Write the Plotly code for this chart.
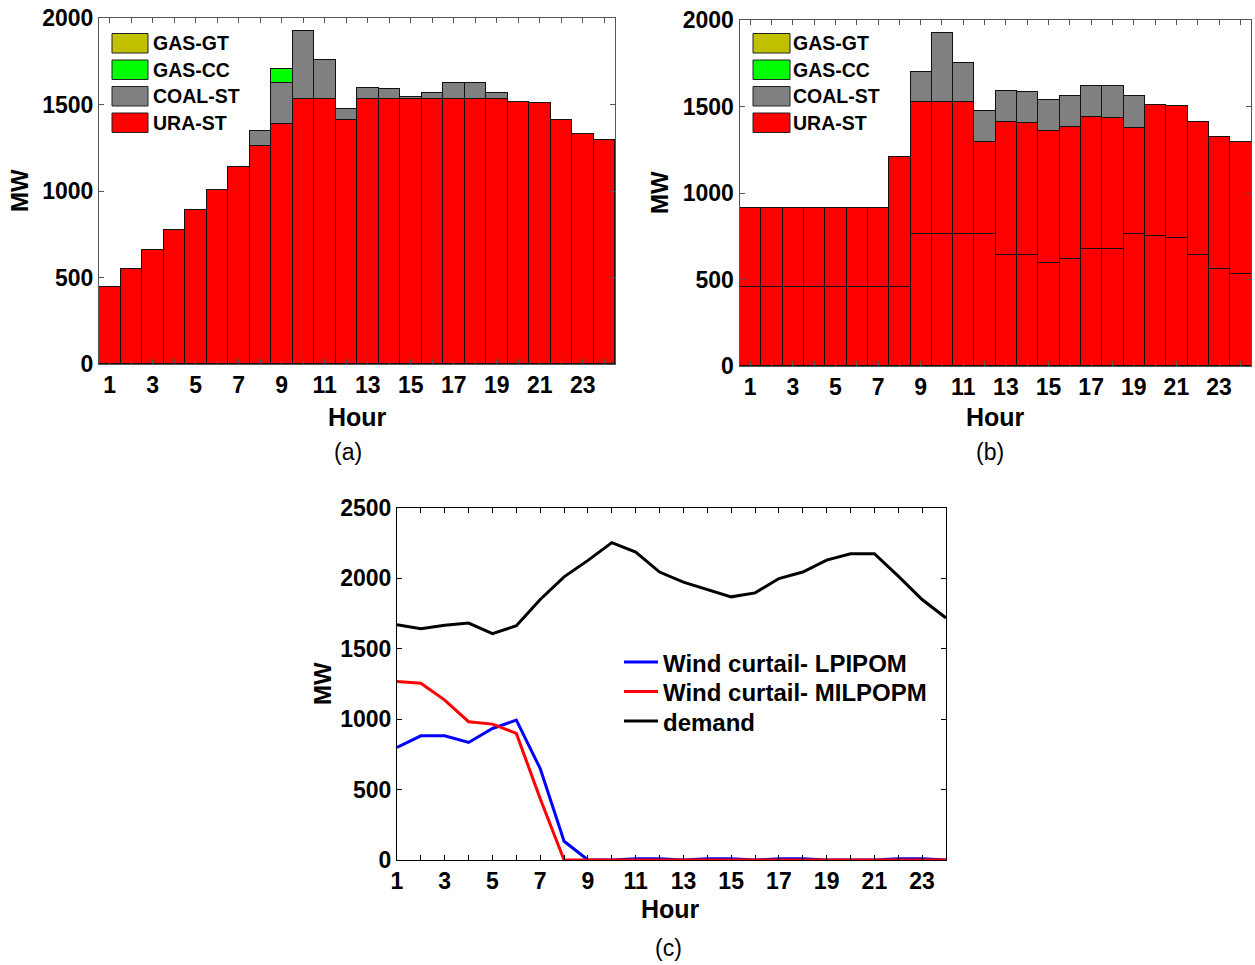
import plotly.graph_objects as go

# ---------------- data ----------------
hours = list(range(1, 25))

# (a) dispatch per technology, MW
ura_a = [444, 548, 658, 772, 888, 1008, 1137, 1261, 1390, 1529, 1529, 1413,
         1529, 1529, 1529, 1529, 1529, 1529, 1529, 1512, 1506, 1413, 1328, 1297]
coal_a = [0, 0, 0, 0, 0, 0, 0, 83, 232, 398, 230, 62,
          64, 58, 12, 35, 93, 93, 35, 0, 0, 0, 0, 0]
gascc_a = [0, 0, 0, 0, 0, 0, 0, 0, 83, 0, 0, 0,
           0, 0, 0, 0, 0, 0, 0, 0, 0, 0, 0, 0]
gasgt_a = [0] * 24

# (b) dispatch per unit / technology, MW (two uranium units)
ura1_b = [455, 455, 455, 455, 455, 455, 455, 455, 762, 762, 762, 762,
          644, 640, 594, 617, 675, 675, 762, 750, 738, 644, 559, 530]
ura2_b = [461, 461, 461, 461, 461, 461, 461, 752, 763, 763, 763, 532,
          765, 764, 763, 765, 765, 759, 616, 756, 764, 765, 765, 764]
coal_b = [0, 0, 0, 0, 0, 0, 0, 0, 177, 397, 229, 181,
          180, 181, 180, 178, 178, 184, 182, 0, 0, 0, 0, 0]
gascc_b = [0] * 24
gasgt_b = [0] * 24

# (c) demand and wind curtailment, MW
demand = [1671, 1643, 1667, 1683, 1607, 1664, 1850, 2011, 2128, 2254, 2187, 2045,
          1973, 1921, 1869, 1897, 1999, 2045, 2130, 2175, 2175, 2016, 1850, 1719]
curt_lp = [799, 882, 882, 835, 934, 994, 649, 133, 0, 0, 8, 8,
           0, 8, 8, 0, 8, 8, 0, 0, 0, 8, 8, 0]
curt_milp = [1267, 1255, 1136, 982, 965, 899, 435, 0, 0, 0, 0, 0,
             0, 0, 0, 0, 0, 0, 0, 0, 0, 0, 0, 0]

tech_names = ["GAS-GT", "GAS-CC", "COAL-ST", "URA-ST"]
tech_colors = {"GAS-GT": "#c0c000", "GAS-CC": "#00ff00",
               "COAL-ST": "#808080", "URA-ST": "#ff0000"}

line_names = ["Wind curtail- LPIPOM", "Wind curtail- MILPOPM", "demand"]
line_colors = {"Wind curtail- LPIPOM": "#0000ff",
               "Wind curtail- MILPOPM": "#ff0000",
               "demand": "#000000"}

W, H = 1255, 965
FONT = "Liberation Sans, Arial, sans-serif"


def px(x):
    return x / W


def py(y):
    return 1 - y / H


fig = go.Figure()


def add_bar(xa, ya, y, name):
    fig.add_trace(go.Bar(
        x=hours, y=y, name=name, xaxis=xa, yaxis=ya, showlegend=False,
        marker=dict(color=tech_colors[name], line=dict(color="#111", width=1)),
        width=1.0,
    ))


# (a)
add_bar("x", "y", ura_a, "URA-ST")
add_bar("x", "y", coal_a, "COAL-ST")
add_bar("x", "y", gascc_a, "GAS-CC")
add_bar("x", "y", gasgt_a, "GAS-GT")

# (b)
add_bar("x2", "y2", ura1_b, "URA-ST")
add_bar("x2", "y2", ura2_b, "URA-ST")
add_bar("x2", "y2", coal_b, "COAL-ST")
add_bar("x2", "y2", gascc_b, "GAS-CC")
add_bar("x2", "y2", gasgt_b, "GAS-GT")

# (c)
for name, y in zip(line_names, [curt_lp, curt_milp, demand]):
    fig.add_trace(go.Scatter(x=hours, y=y, mode="lines", name=name, showlegend=False,
                             line=dict(color=line_colors[name], width=3),
                             xaxis="x3", yaxis="y3"))

tickfont = dict(family=FONT, size=23, color="black", weight="bold")
odd_text = [str(h) if h % 2 == 1 else "" for h in hours]


def xaxis(domain, anchor, rng, color):
    return dict(domain=domain, anchor=anchor, range=rng, tickvals=hours, ticktext=odd_text,
                ticks="inside", ticklen=5, tickcolor=color, showline=True, linecolor=color,
                linewidth=1, mirror="ticks", showgrid=False, zeroline=False,
                tickfont=tickfont, fixedrange=True, automargin=False)


def yaxis(domain, anchor, rng, dtick, color):
    return dict(domain=domain, anchor=anchor, range=rng, dtick=dtick,
                ticks="inside", ticklen=5, tickcolor=color, showline=True, linecolor=color,
                linewidth=1, mirror="ticks", showgrid=False, zeroline=False,
                tickfont=tickfont, fixedrange=True, automargin=False)


fig.update_layout(
    width=W, height=H,
    margin=dict(l=0, r=0, t=0, b=0, pad=0, autoexpand=False),
    paper_bgcolor="white", plot_bgcolor="white",
    barmode="stack", bargap=0, showlegend=False,
    xaxis=xaxis([px(99), px(615)], "y", [0.5, 24.5], "#555"),
    yaxis=yaxis([py(364), py(18)], "x", [0, 2000], 500, "#555"),
    xaxis2=xaxis([px(739.5), px(1251)], "y2", [0.5, 24.5], "#555"),
    yaxis2=yaxis([py(366), py(20)], "x2", [0, 2000], 500, "#555"),
    xaxis3=xaxis([px(397), px(946)], "y3", [1, 24], "black"),
    yaxis3=yaxis([py(860), py(508)], "x3", [0, 2500], 500, "black"),
)

annotations = []
shapes = []


def text(x, y, s, size, bold=True, angle=0, xanchor="center"):
    annotations.append(dict(
        x=px(x), y=py(y), xref="paper", yref="paper", text=s, showarrow=False,
        xanchor=xanchor, yanchor="middle", textangle=angle, borderpad=0,
        font=dict(family=FONT, size=size, color="black", weight="bold" if bold else "normal"),
    ))


# axis titles and captions
text(357, 417, "Hour", 25)
text(995, 417, "Hour", 25)
text(670, 909, "Hour", 25)
text(20, 191, "MW", 24, angle=-90)
text(660, 193, "MW", 24, angle=-90)
text(322, 684, "MW", 24, angle=-90)
text(348, 452, "(a)", 23, bold=False)
text(990, 452, "(b)", 23, bold=False)
text(668, 948, "(c)", 23, bold=False)

# technology keys for the bar panels
for x0, x1, tx in [(112, 148, 152), (753, 790, 792)]:
    for i, name in enumerate(tech_names):
        yc = 43.5 + i * 26.5
        shapes.append(dict(type="rect", xref="paper", yref="paper",
                           x0=px(x0), x1=px(x1), y0=py(yc - 10), y1=py(yc + 9.5),
                           fillcolor=tech_colors[name], line=dict(color="#222", width=1)))
        text(tx, yc, name, 19.5, xanchor="left")

# key for the line panel
for i, name in enumerate(line_names):
    yc = 662 + i * 29.5
    shapes.append(dict(type="line", xref="paper", yref="paper",
                       x0=px(624), x1=px(658), y0=py(yc), y1=py(yc),
                       line=dict(color=line_colors[name], width=3)))
    text(662, yc + 1, name, 24, xanchor="left")

fig.update_layout(annotations=annotations, shapes=shapes)

fig.write_html("out.html")
